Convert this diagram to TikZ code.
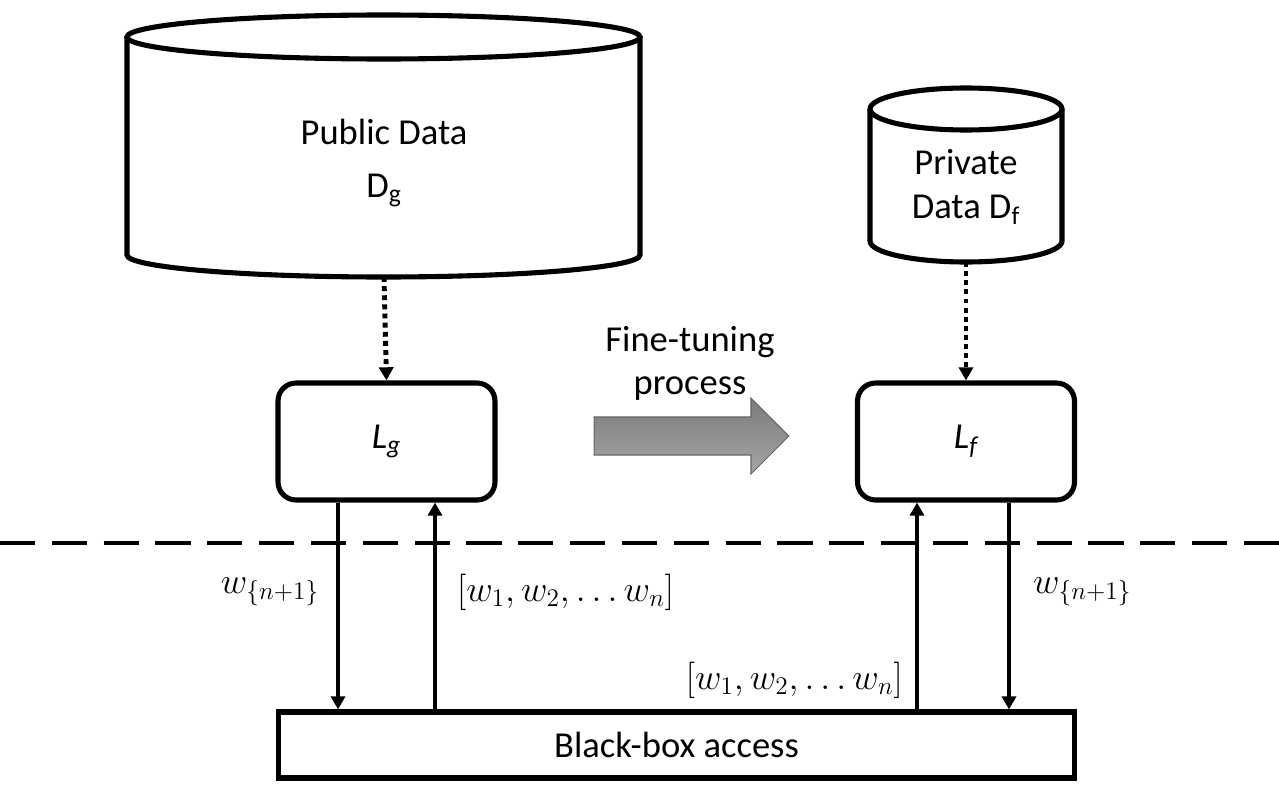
\documentclass[tikz,border=0pt]{standalone}
\usepackage{fontspec}
\setmainfont{Carlito}
\usetikzlibrary{shapes.arrows, arrows.meta, positioning}
\newcommand{\bigtext}{\fontsize{20.8}{25}\selectfont}
\tikzset{
  db/.style={line width=2.9pt},
  model/.style={draw, line width=2.9pt, rounded corners=0.36cm, minimum width=4.34cm, minimum height=2.34cm, font=\bigtext\itshape},
  access/.style={draw, line width=2.9pt, minimum width=15.94cm, minimum height=1.32cm, font=\bigtext},
  link/.style={line width=2.4pt, -{Triangle[length=7.5pt,width=8pt]}},
  feed/.style={line width=2.8pt, dash pattern=on 2.8pt off 2.4pt, -{Triangle[length=7.5pt,width=8pt]}},
  tune/.style={single arrow, draw=black!60, line width=0.6pt, top color=black!52, bottom color=black!35,
    minimum height=3.9cm, inner xsep=0pt, inner ysep=0.37cm, single arrow head extend=0.38cm},
  lbl/.style={font=\bigtext, align=center},
}

\begin{document}
\begin{tikzpicture}[x=0.02cm, y=0.02cm]
\useasboundingbox (0,0) rectangle (1279,-791);

%Public data cylinder
\draw[db] (127,-37) -- (127,-255) arc[start angle=180, end angle=360, x radius=256.5, y radius=22] -- (640,-37);
\draw[db] (383.5,-37) ellipse [x radius=256.5, y radius=22];
\node[lbl] (pubdata) at (384,-163) {Public Data\\[5pt]D\textsubscript{g}};
\coordinate (pubbase) at (384,-277);

%Private data cylinder
\draw[db] (870,-109) -- (870,-241) arc[start angle=180, end angle=360, x radius=96, y radius=21] -- (1062,-109);
\draw[db] (966,-109) ellipse [x radius=96, y radius=21];
\node[lbl] (privdata) at (966,-187) {Private\\Data D\textsubscript{f}};
\coordinate (privbase) at (966,-262);

%Models
\node[model] (lg) at (386.5,-441.5) {L\textsubscript{g}};
\node[model] (lf) at (966,-441.5) {L\textsubscript{f}};
\node[access] (bb) at (676.5,-745) {Black-box access};

%Fine-tuning arrow
\node[tune] (tune) at (682,-436) {};
\node[lbl, font=\fontsize{20.8}{24.5}\selectfont] (tunetext) at (690,-363) {Fine-tuning\\process};

%Separator
\draw[line width=2.8pt, dash pattern=on 20pt off 9.5pt] (0,-543) -- (1279,-543);

%Data to models
\draw[feed] (pubbase) -- (lg.north);
\draw[feed] (privbase) -- (lf.north);

%Queries and answers
\draw[link] ([xshift=-0.97cm]lg.south) -- ([xshift=-0.97cm]lg.south |- bb.north);
\draw[link] ([xshift=0.97cm]lg.south |- bb.north) -- ([xshift=0.97cm]lg.south);
\draw[link] ([xshift=-0.98cm]lf.south |- bb.north) -- ([xshift=-0.98cm]lf.south);
\draw[link] ([xshift=0.86cm]lf.south) -- ([xshift=0.86cm]lf.south |- bb.north);

\node[lbl] (nextg) at (270,-592) {$w_{\{n+1\}}$};
\node[lbl, anchor=west] (histg) at (451,-592) {$[w_1, w_2, \ldots w_n]$};
\node[lbl, anchor=east] (histf) at (909,-680) {$[w_1, w_2, \ldots w_n]$};
\node[lbl, anchor=west] (nextf) at (1027,-592) {$w_{\{n+1\}}$};

\end{tikzpicture}
\end{document}
